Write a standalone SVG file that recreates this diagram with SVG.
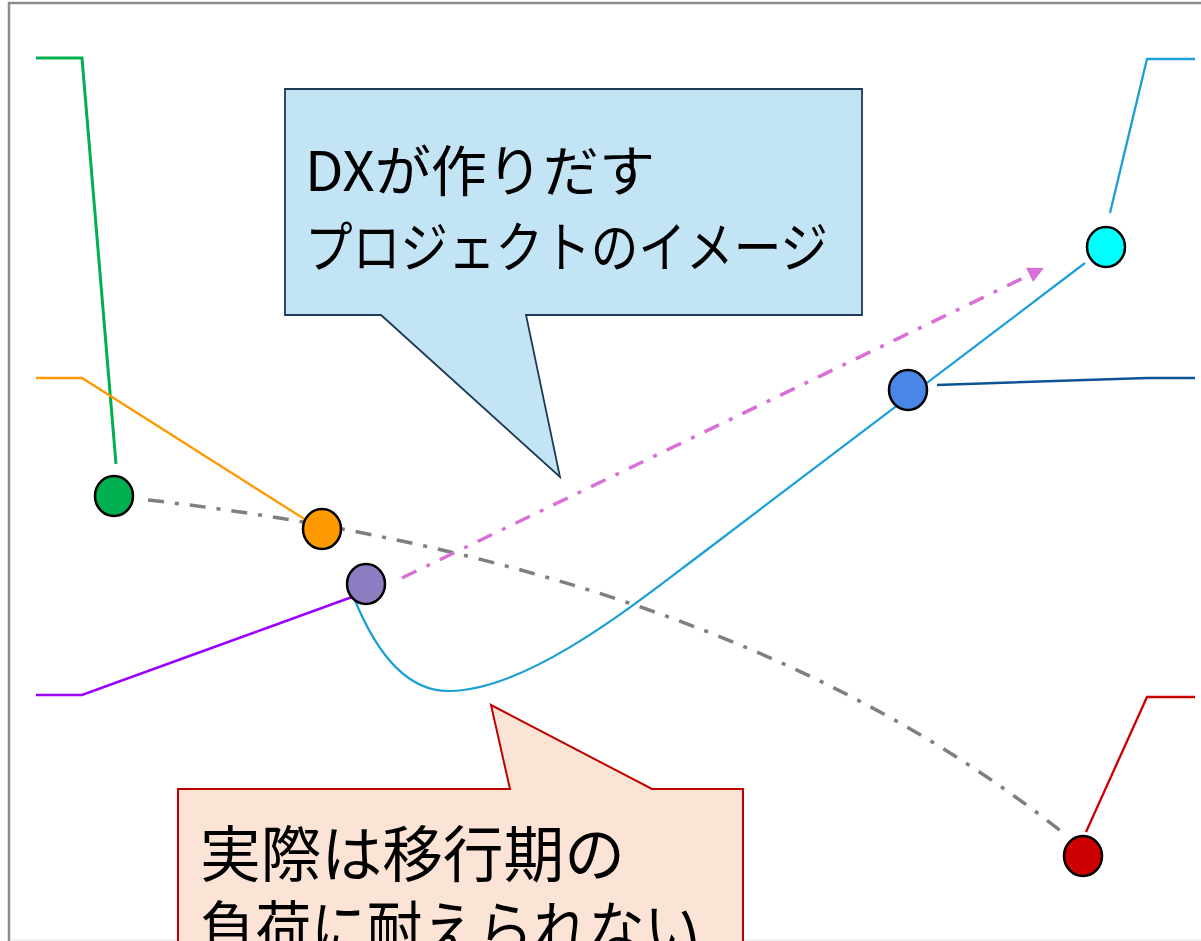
<svg xmlns="http://www.w3.org/2000/svg" width="1201" height="941" viewBox="0 0 1201 941">
<style>
.node{stroke:#000;stroke-width:2.5}
.lead{fill:none;stroke-linejoin:miter}
.txt{font-family:"Noto Sans CJK JP","Noto Sans",sans-serif;fill:#000}
</style>
<defs>
<marker id="ah" markerUnits="userSpaceOnUse" markerWidth="16" markerHeight="16" viewBox="0 0 16 16" refX="0" refY="8" orient="auto">
<path d="M0,0 L16,8 L0,16 Z" fill="#da70d6"/>
</marker>
</defs>
<rect x="0" y="0" width="1201" height="941" fill="#fff"/>
<path d="M9,941 V3 H1201" fill="none" stroke="#8c8c8c" stroke-width="2.5"/>
<line x1="10" y1="940" x2="1201" y2="940" stroke="#e4e4e4" stroke-width="1"/>

<g id="connectors">
<path class="lead" d="M36,58 H82 L116,464" stroke="#00b050" stroke-width="3"/>
<path class="lead" d="M36,378 H82 L306,520" stroke="#ff9900" stroke-width="2.3"/>
<path class="lead" d="M36,695 H82 L352,597" stroke="#9900ff" stroke-width="2.5"/>
<path class="lead" d="M1195,59 H1147 L1110,213" stroke="#1a9fd6" stroke-width="2.3"/>
<path class="lead" d="M937,385 L1147,378 H1195" stroke="#0b5394" stroke-width="2.5"/>
<path class="lead" d="M1195,697 H1147 L1086,832" stroke="#cc0000" stroke-width="2.3"/>
<path class="lead" d="M354,598 C375,650 405,692 450,691 C530,690 640,600 700,555 L1085,263" stroke="#1a9fd6" stroke-width="2.2"/>
<path class="lead" d="M148,500 C500,540 820,640 1062,832" stroke="#7f7f7f" stroke-width="3.5" stroke-dasharray="16 11 4 11"/>
<path class="lead" d="M402,578 L1029.5,275" stroke="#da70d6" stroke-width="3.5" stroke-dasharray="16 11 4 11" marker-end="url(#ah)"/>
</g>

<g id="callout-dx">
<path d="M285,89 H862 V315 H526 L560,477 L381,315 H285 Z" fill="#c3e4f4" stroke="#1f3a56" stroke-width="1.8"/>
<text class="txt" x="305" y="191" font-size="55" textLength="350" lengthAdjust="spacingAndGlyphs">DXが作りだす</text>
<text class="txt" x="305" y="267" font-size="55" textLength="523" lengthAdjust="spacingAndGlyphs">プロジェクトのイメージ</text>
</g>

<g id="callout-actual">
<path d="M178,789 H510 L491,705 L652,789 H743 V960 H178 Z" fill="#fbe3d6" stroke="#c00000" stroke-width="2"/>
<text class="txt" x="200" y="877" font-size="61" textLength="425" lengthAdjust="spacingAndGlyphs">実際は移行期の</text>
<text class="txt" x="200" y="952" font-size="61" textLength="500" lengthAdjust="spacingAndGlyphs">負荷に耐えられない</text>
</g>

<g id="node-green"><ellipse class="node" cx="114" cy="496" rx="19" ry="20" fill="#00b050"/></g>
<g id="node-orange"><ellipse class="node" cx="322" cy="529" rx="19" ry="20" fill="#ff9900"/></g>
<g id="node-purple"><ellipse class="node" cx="366" cy="584" rx="19" ry="20" fill="#8e7cc3"/></g>
<g id="node-blue"><ellipse class="node" cx="908" cy="390" rx="19" ry="20" fill="#4a86e8"/></g>
<g id="node-cyan"><ellipse class="node" cx="1106" cy="247" rx="19" ry="20" fill="#00ffff"/></g>
<g id="node-red"><ellipse class="node" cx="1083" cy="856" rx="19" ry="20" fill="#cc0000"/></g>
</svg>
